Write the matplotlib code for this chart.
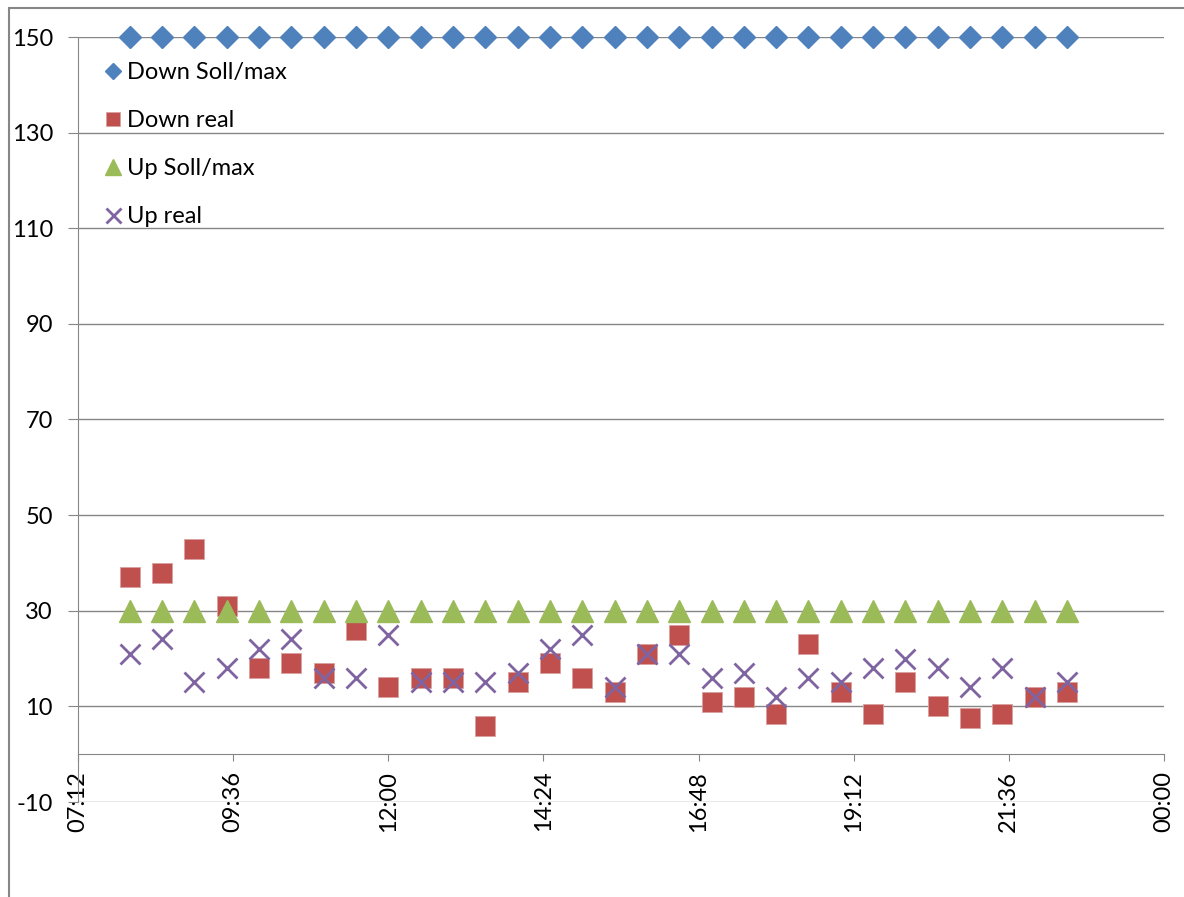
import matplotlib
matplotlib.use('Agg')
import matplotlib.pyplot as plt
from matplotlib.patches import Rectangle
from matplotlib.ticker import FuncFormatter

# 30-minute samples from 08:00 to 22:30
times = ['08:00', '08:30', '09:00', '09:30', '10:00', '10:30', '11:00', '11:30',
         '12:00', '12:30', '13:00', '13:30', '14:00', '14:30', '15:00', '15:30',
         '16:00', '16:30', '17:00', '17:30', '18:00', '18:30', '19:00', '19:30',
         '20:00', '20:30', '21:00', '21:30', '22:00', '22:30']
down_soll = [150] * 30
down_real = [37, 38, 43, 31, 18, 19, 17, 26, 14, 16, 16, 6, 15, 19, 16, 13,
             21, 25, 11, 12, 8.5, 23, 13, 8.5, 15, 10, 7.5, 8.5, 12, 13]
up_soll = [30] * 30
up_real = [21, 24, 15, 18, 22, 24, 16, 16, 25, 15, 15, 15, 17, 22, 25, 14,
           21, 21, 16, 17, 12, 16, 15, 18, 20, 18, 14, 18, 12, 15]

x_ticks = ['07:12', '09:36', '12:00', '14:24', '16:48', '19:12', '21:36', '00:00']
y_ticks = [-10, 10, 30, 50, 70, 90, 110, 130, 150]


def to_hours(s):
    h, m = s.split(':')
    return int(h) + int(m) / 60.0


x = [to_hours(t) for t in times]
xt = [to_hours(t) for t in x_ticks]
xt[-1] = 24.0

plt.rcParams['font.family'] = ['Lato', 'DejaVu Sans']
plt.rcParams['axes.unicode_minus'] = False
gray = '#868686'

fig = plt.figure(figsize=(11.84, 8.97), dpi=100)
ax = fig.add_axes([78 / 1184, 1 - 802 / 897, (1164 - 78) / 1184, (802 - 37) / 897])

ax.plot(x, down_soll, 'D', color='#4F81BD', ms=11.5, mec='#4F81BD', label='Down Soll/max', clip_on=False)
ax.plot(x, down_real, 's', color='#C0504D', ms=14.5, mec='#D9A09E', mew=0.6, label='Down real', clip_on=False)
ax.plot(x, up_soll, '^', color='#9BBB59', ms=16, mec='#9BBB59', label='Up Soll/max', clip_on=False)
ax.plot(x, up_real, 'x', color='#8064A2', ms=15, mew=2, label='Up real', clip_on=False)

ax.set_xlim(7.2, 24)
ax.set_ylim(-10, 150)
ax.set_xticks(xt)
ax.xaxis.set_major_formatter(FuncFormatter(lambda v, p: '%02d:%02d' % (int(round(v * 60)) // 60 % 24, int(round(v * 60)) % 60)))
ax.set_yticks(y_ticks)

ax.grid(axis='y', color=gray, lw=1)
ax.set_axisbelow(True)
for s in ['top', 'right']:
    ax.spines[s].set_visible(False)
ax.spines['bottom'].set_position(('data', 0))
ax.spines['bottom'].set_color(gray)
ax.spines['left'].set_color(gray)

ax.tick_params(axis='x', direction='out', length=5, color=gray, labelsize=17, pad=7,
               labelrotation=90)
ax.tick_params(axis='y', direction='out', length=7, color=gray, labelsize=17, pad=11)

leg = ax.legend(loc='upper left', bbox_to_anchor=(0.004, 0.995), frameon=False,
                fontsize=17, markerscale=0.72, handlelength=0.8, handletextpad=0.2,
                labelspacing=1.14)

fig.add_artist(Rectangle((9 / 1184, -0.1), 1.2, 1 - 8 / 897 + 0.1, transform=fig.transFigure,
                         fill=False, edgecolor=gray, lw=1.5))

fig.savefig('out.png', dpi=100)
